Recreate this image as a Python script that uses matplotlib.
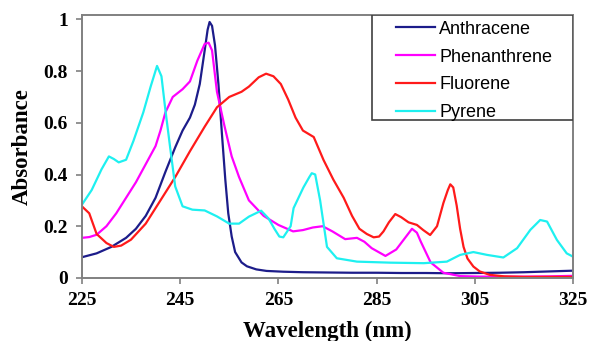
import numpy as np
import matplotlib.pyplot as plt
from matplotlib.patches import Rectangle

# wavelength (nm) / absorbance
anth_x = [225, 228, 231, 234, 236, 238, 240, 242, 244, 245.5, 247, 248, 249, 250, 250.6, 251, 251.5,
          252.1, 252.8, 253.5, 254.2, 254.8, 255.5, 256.2, 257.5, 258.6, 260.5, 262.6, 266, 270, 275,
          280, 285, 290, 295, 300, 305, 310, 315, 320, 325]
anth_y = [0.08, 0.095, 0.12, 0.155, 0.19, 0.24, 0.31, 0.41, 0.505, 0.57, 0.62, 0.67, 0.75, 0.88, 0.96,
          0.99, 0.975, 0.9, 0.75, 0.56, 0.38, 0.25, 0.16, 0.10, 0.06, 0.045, 0.033, 0.027, 0.024, 0.022,
          0.021, 0.02, 0.02, 0.019, 0.019, 0.018, 0.019, 0.02, 0.022, 0.025, 0.028]

phen_x = [225, 226.5, 228, 230, 232, 234, 236, 238, 240, 241, 242, 243.5, 245.5, 247, 248.5, 250,
          250.8, 251.5, 252.5, 254, 255.5, 257, 259, 262, 265, 268, 270, 272, 274, 276, 278.6, 281,
          282.5, 284, 286.8, 289, 291, 292.2, 293.2, 294, 296, 298.6, 302, 306, 310, 315, 320, 325]
phen_y = [0.155, 0.158, 0.167, 0.2, 0.25, 0.31, 0.37, 0.44, 0.51, 0.57, 0.64, 0.70, 0.73, 0.76, 0.84,
          0.905, 0.91, 0.88, 0.72, 0.59, 0.47, 0.39, 0.30, 0.24, 0.205, 0.18, 0.185, 0.195, 0.2, 0.18,
          0.15, 0.155, 0.14, 0.115, 0.085, 0.11, 0.16, 0.19, 0.175, 0.14, 0.06, 0.02, 0.007, 0.005,
          0.005, 0.005, 0.006, 0.008]

fluo_x = [225, 226.5, 228, 230, 231.5, 233, 235, 238, 241, 244, 247, 250, 252.5, 255, 257.5, 259,
          261, 262.5, 264, 265.5, 267, 268.5, 270, 272.2, 274.2, 276.2, 278.3, 280, 281.5, 283, 284.4,
          285.5, 286.4, 287.5, 288.8, 290, 291.5, 293.2, 294.5, 295.9, 297.3, 298.6, 299.5, 300,
          300.6, 301.3, 302, 302.7, 303.5, 304.7, 306, 308, 311, 315, 320, 325]
fluo_y = [0.277, 0.25, 0.17, 0.135, 0.12, 0.125, 0.148, 0.21, 0.30, 0.39, 0.49, 0.585, 0.66, 0.70,
          0.72, 0.74, 0.776, 0.79, 0.78, 0.75, 0.69, 0.62, 0.57, 0.545, 0.456, 0.38, 0.31, 0.24, 0.19,
          0.17, 0.157, 0.16, 0.18, 0.215, 0.247, 0.235, 0.215, 0.205, 0.185, 0.166, 0.2, 0.29, 0.34,
          0.362, 0.35, 0.28, 0.19, 0.12, 0.075, 0.044, 0.025, 0.012, 0.006, 0.004, 0.004, 0.004]

pyr_x = [225, 227, 229, 230.5, 231.5, 232.5, 234, 235.5, 237.5, 239, 240.3, 241.2, 242, 243, 244,
         245.5, 247.5, 250, 252.5, 255, 257, 259, 261.5, 263, 264.2, 265.2, 266, 267.5, 268.1, 270.1,
         271.3, 271.8, 272.5, 273.5, 274.9, 276.9, 281, 287.8, 294.6, 299.3, 302, 304.7, 307.5, 310.8,
         313.6, 316.3, 318.3, 319.7, 321.7, 323.7, 325]
pyr_y = [0.283, 0.34, 0.42, 0.47, 0.46, 0.447, 0.457, 0.53, 0.64, 0.74, 0.82, 0.78, 0.65, 0.50, 0.354,
         0.277, 0.264, 0.261, 0.238, 0.21, 0.21, 0.237, 0.26, 0.23, 0.19, 0.16, 0.157, 0.2, 0.27, 0.35,
         0.39, 0.405, 0.40, 0.30, 0.12, 0.076, 0.063, 0.059, 0.057, 0.063, 0.089, 0.1, 0.089, 0.079,
         0.115, 0.186, 0.224, 0.218, 0.147, 0.095, 0.082]

x_ticks = [225, 245, 265, 285, 305, 325]
y_ticks = [0, 0.2, 0.4, 0.6, 0.8, 1]
y_labels = ['0', '0.2', '0.4', '0.6', '0.8', '1']

fig = plt.figure(figsize=(5.89, 3.41), dpi=100)
ax = fig.add_axes([0.139, 0.185, 0.834, 0.771])

ax.plot(anth_x, anth_y, color='#1c1c8a', lw=1.6, label='Anthracene')
ax.plot(phen_x, phen_y, color='#ff00ff', lw=1.6, label='Phenanthrene')
ax.plot(fluo_x, fluo_y, color='#ff1a1a', lw=1.6, label='Fluorene')
ax.plot(pyr_x, pyr_y, color='#1ef0f0', lw=1.6, label='Pyrene')

ax.set_xlim(225, 325)
ax.set_ylim(0, 1.017)
ax.set_xticks(x_ticks)
ax.set_yticks(y_ticks)
ax.set_yticklabels(y_labels)

for s in ax.spines.values():
    s.set_color('#808080')
    s.set_linewidth(1.4)
ax.tick_params(direction='out', length=4, width=1.2, color='#808080', pad=6)
for lab in ax.get_xticklabels() + ax.get_yticklabels():
    lab.set_fontfamily('Liberation Serif')
    lab.set_fontweight('bold')
    lab.set_fontsize(14)

ax.set_xlabel('Wavelength (nm)', family='Liberation Serif', weight='bold', fontsize=16.5, labelpad=9)
ax.set_ylabel('Absorbance', family='Liberation Serif', weight='bold', fontsize=16.5, labelpad=8)

# legend box (wider than its content, like the original)
box = Rectangle((0.5906, 0.601), 0.4094, 0.399, transform=ax.transAxes, facecolor='white',
                edgecolor='#404040', lw=1.2, zorder=4)
ax.add_patch(box)
leg = ax.legend(loc='upper left', bbox_to_anchor=(0.639, 0.978), borderaxespad=0, borderpad=0,
                frameon=False, prop={'family': 'Liberation Sans', 'size': 13}, handlelength=2.15,
                labelspacing=0.6, handletextpad=0.25)
leg.set_zorder(5)

plt.savefig('out.png', dpi=100)
